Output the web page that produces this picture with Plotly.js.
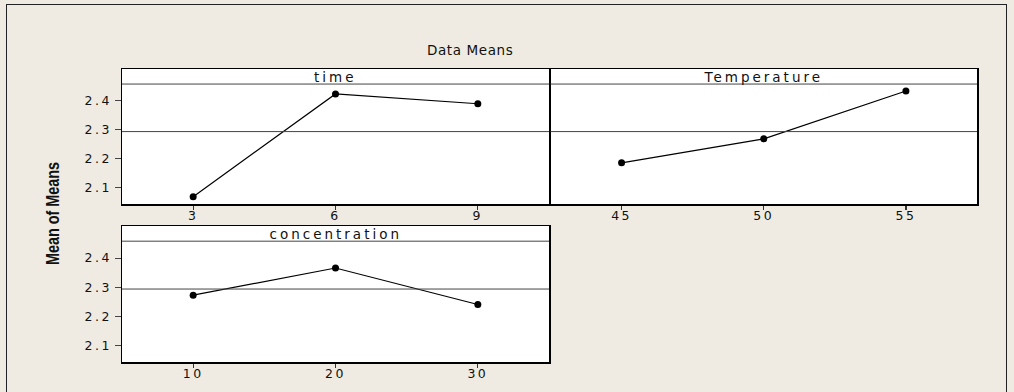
<!DOCTYPE html>
<html>
<head>
<meta charset="utf-8">
<script src="https://cdn.plot.ly/plotly-3.0.1.min.js"></script>
<style>
  html, body { margin: 0; padding: 0; background: #EFEBE2; }
  #wrap { position: relative; width: 1014px; height: 392px; overflow: hidden; }
  #chart { width: 1014px; height: 392px; }
  #frame { position: absolute; left: 6px; top: 4px; width: 1001px; height: 400px; border: 1.5px solid #222; pointer-events: none; box-sizing: border-box; }
  .xaxislayer-above text, .yaxislayer-above text { letter-spacing: 2.5px; }
</style>
</head>
<body>
<div id="wrap"><div id="chart"></div><div id="frame"></div></div>
<script>
// ---- data ----
const timeLevels = [3, 6, 9];
const timeMeans = [2.069, 2.424, 2.390];
const tempLevels = [45, 50, 55];
const tempMeans = [2.186, 2.269, 2.434];
const concLevels = [10, 20, 30];
const concMeans = [2.273, 2.366, 2.241];
const panelTitles = ['time', 'Temperature', 'concentration'];
const grandMean = 2.294;
const yTicks = [2.1, 2.2, 2.3, 2.4];
const yTickText = ['2.1', '2.2', '2.3', '2.4'];
const chartTitle = 'Data Means';
const yTitle = 'Mean of Means';

// ---- layout helpers (pixel -> paper) ----
const W = 1014, H = 392;
const px = v => v / W;
const py = v => 1 - v / H;
const yRange = [2.044, 2.51];
const stripLine = 2.458;
const baseFamily = 'DejaVu Sans, Verdana, Liberation Sans, Arial, sans-serif';
const tickFont = { family: baseFamily, size: 12.5, color: '#111' };
const LW = 1.5;

function lineTrace(x, y, xa, ya) {
  return {
    x: x, y: y, xaxis: xa, yaxis: ya, type: 'scatter', mode: 'lines+markers',
    line: { color: '#000', width: 1.2 },
    marker: { color: '#000', size: 7, symbol: 'circle' },
    hoverinfo: 'x+y', showlegend: false
  };
}

const data = [
  lineTrace(timeLevels, timeMeans, 'x', 'y'),
  lineTrace(tempLevels, tempMeans, 'x2', 'y2'),
  lineTrace(concLevels, concMeans, 'x3', 'y3')
];

function xAxis(domain, range, vals, anchor) {
  return {
    domain: domain, range: range, anchor: anchor,
    tickmode: 'array', tickvals: vals, ticktext: vals.map(String),
    ticks: 'outside', ticklen: 4, tickwidth: 1.2, tickcolor: '#333',
    ticklabelstandoff: -5,
    showgrid: false, zeroline: false,
    showline: true, mirror: true, linecolor: '#000', linewidth: LW,
    tickfont: tickFont, fixedrange: true
  };
}
function yAxis(domain, anchor, labels) {
  return {
    domain: domain, range: yRange, anchor: anchor,
    tickmode: 'array', tickvals: yTicks, ticktext: yTickText,
    ticks: labels ? 'outside' : '', ticklen: 6, tickwidth: 1.2, tickcolor: '#444',
    showticklabels: labels,
    showgrid: false, zeroline: false,
    showline: true, mirror: true, linecolor: '#000', linewidth: LW,
    tickfont: tickFont, fixedrange: true
  };
}

const topDom = [py(204), py(69)];
const botDom = [py(362), py(226)];
const leftDom = [px(122), px(549)];
const rightDom = [px(549 + LW), px(977)];

const shapes = [];
const annotations = [];
[['x', 'y', 0], ['x2', 'y2', 1], ['x3', 'y3', 2]].forEach(([xa, ya, i]) => {
  const xd = xa + ' domain';
  shapes.push({ type: 'line', xref: xd, yref: ya, x0: 0, x1: 1, y0: grandMean, y1: grandMean,
    line: { color: '#444', width: 1 } });
  shapes.push({ type: 'line', xref: xd, yref: ya, x0: 0, x1: 1, y0: stripLine, y1: stripLine,
    line: { color: '#444', width: 1 } });
  annotations.push({ xref: xd, yref: ya, x: 0.5, y: (stripLine + yRange[1]) / 2,
    text: panelTitles[i], showarrow: false, xanchor: 'center', yanchor: 'middle',
    font: { family: baseFamily, size: 13.5, color: '#111' } });
});

annotations.push({ xref: 'paper', yref: 'paper', x: px(470), y: py(50), text: chartTitle,
  showarrow: false, xanchor: 'center', yanchor: 'middle',
  font: { family: baseFamily, size: 13.5, color: '#111' } });
annotations.push({ xref: 'paper', yref: 'paper', x: px(53), y: py(214), text: yTitle,
  showarrow: false, xanchor: 'center', yanchor: 'middle', textangle: -90,
  font: { family: 'Liberation Sans, Arial, sans-serif', size: 18, color: '#111', weight: 'bold' } });

const layout = {
  width: W, height: H,
  margin: { l: 0, r: 0, t: 0, b: 0, pad: 0 },
  paper_bgcolor: '#EFEBE2', plot_bgcolor: '#FFFFFF',
  showlegend: false,
  xaxis: xAxis(leftDom, [1.5, 10.5], timeLevels, 'y'),
  yaxis: yAxis(topDom, 'x', true),
  xaxis2: xAxis(rightDom, [42.5, 57.5], tempLevels, 'y2'),
  yaxis2: yAxis(topDom, 'x2', false),
  xaxis3: xAxis(leftDom, [5, 35], concLevels, 'y3'),
  yaxis3: yAxis(botDom, 'x3', true),
  shapes: shapes,
  annotations: annotations
};

Plotly.newPlot('chart', data, layout, { displayModeBar: false, staticPlot: true }).then(gd => {
  const anns = gd.querySelectorAll('.annotation');
  anns.forEach(a => {
    const idx = +a.getAttribute('data-index');
    const t = a.querySelector('text');
    if (!t) return;
    if (idx <= 2) {
      t.style.letterSpacing = '3px';
    } else if (idx === 3) {
      t.style.letterSpacing = '0.6px';
    } else if (idx === 4) {
      t.setAttribute('textLength', '103');
      t.setAttribute('lengthAdjust', 'spacingAndGlyphs');
    }
  });
});
</script>
</body>
</html>
